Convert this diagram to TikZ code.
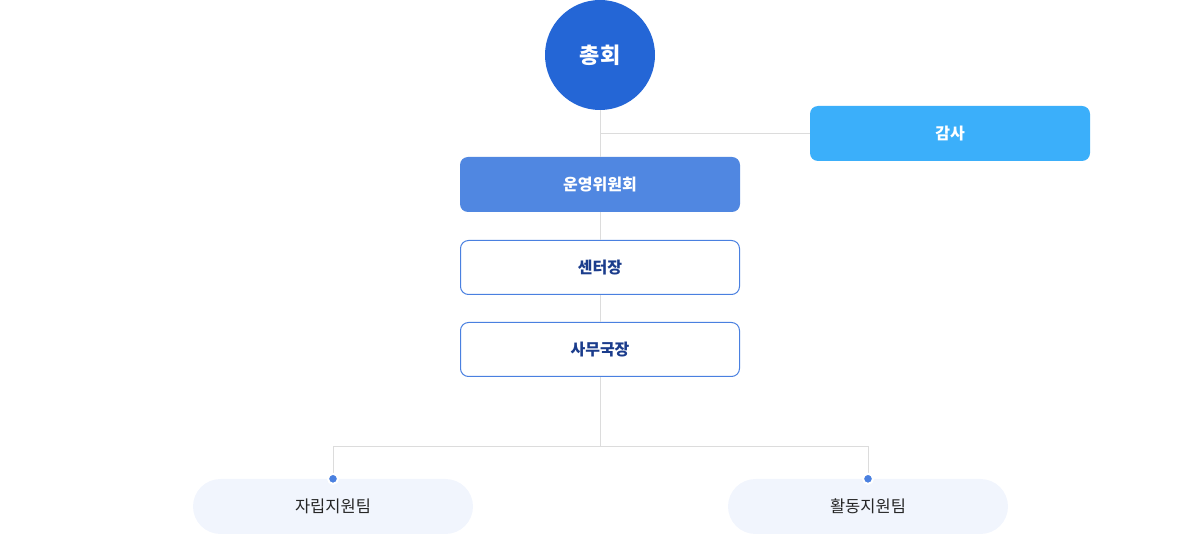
\documentclass[tikz,border=0pt]{standalone}
\usepackage{fontspec}
\setmainfont{Noto Sans CJK KR}
\usetikzlibrary{positioning}

\definecolor{chonghoblue}{HTML}{2466D6}
\definecolor{unyoungblue}{HTML}{5087E1}
\definecolor{gamsablue}{HTML}{3BAFFA}
\definecolor{boxline}{HTML}{4A80E0}
\definecolor{boxtext}{HTML}{1B3C8C}
\definecolor{teamfill}{HTML}{F1F5FD}
\definecolor{linkgray}{HTML}{DCDCDC}

\begin{document}
\begin{tikzpicture} [x=1pt, y=1pt,
            node distance = 82pt,
            on grid,
            link/.style = {draw=linkgray, line width=1pt},
            office/.style = {rectangle, rounded corners=8pt,
                minimum width=280pt, minimum height=55pt,
                font=\fontsize{16}{18}\selectfont\bfseries},
            framed/.style = {office, draw=boxline, line width=1pt,
                inner sep=0pt, minimum width=279pt, minimum height=54pt,
                text=boxtext},
            team/.style = {rectangle, rounded corners=27.5pt,
                fill=teamfill, minimum width=280pt, minimum height=55pt,
                text=black!85, font=\fontsize{16.5}{18}\selectfont},
            pin/.style = {circle, fill=boxline, draw=white,
                line width=2pt, inner sep=0pt, minimum size=10pt}]

        \useasboundingbox (0,0) rectangle (1200,-534);

        % General assembly
        \node (chongho) [circle, fill=chonghoblue, minimum size=110pt,
            inner sep=0pt, text=white,
            font=\fontsize{22}{24}\selectfont\bfseries] at (600,-55) {총회};

        % Steering committee
        \node (unyoung) [office, fill=unyoungblue, text=white,
            below = 129.5pt of chongho] {운영위원회};

        % Audit
        \node (gamsa) [office, fill=gamsablue, text=white]
            at (950,-133.5) {감사};

        % Center director
        \node (center) [framed,
            below = 83pt of unyoung] {센터장};

        % Secretary general
        \node (samu) [framed,
            below = of center] {사무국장};

        % Teams
        \node (jarip) [team] at (333,-506.5) {자립지원팀};
        \node (hwaldong) [team] at (868,-506.5) {활동지원팀};

        % Branch points
        \coordinate (split) at (600,-447);
        \coordinate (gamsajoin) at (chongho |- gamsa);

        % Links
        \path [link]
            (chongho) -- (unyoung)
            (gamsajoin) -- (gamsa)
            (unyoung) -- (center)
            (center) -- (samu)
            (samu) -- (split)
            (jarip.north) -- (jarip.north |- split) -- (hwaldong.north |- split) -- (hwaldong.north);

        % Pins
        \node (jaripPin) [pin] at (jarip.north) {};
        \node (hwaldongPin) [pin] at (hwaldong.north) {};
        \end{tikzpicture}
\end{document}
